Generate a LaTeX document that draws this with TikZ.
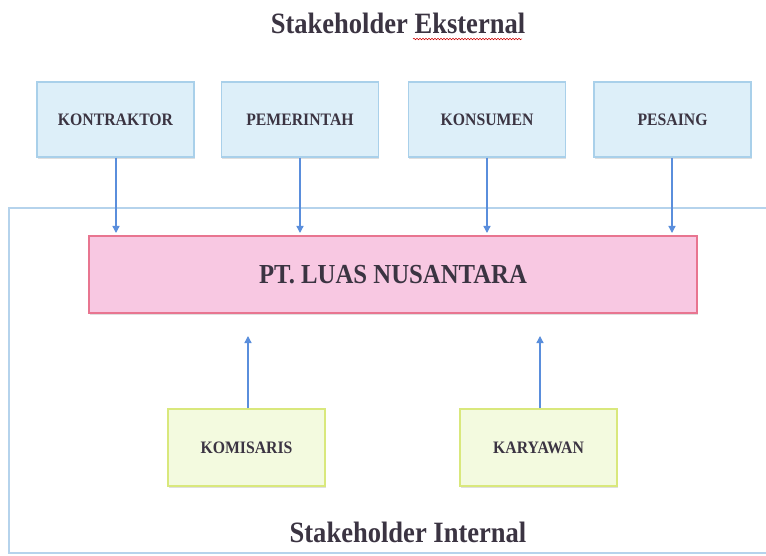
\documentclass[tikz,border=0pt]{standalone}
\usepackage{fontspec}
\setmainfont[FakeStretch=0.9]{Liberation Serif}
\usetikzlibrary{shadows,decorations.pathmorphing,arrows.meta}
\definecolor{txt}{HTML}{3B3442}
\definecolor{bluefill}{HTML}{DDEFF9}
\definecolor{blueline}{HTML}{A9D0EA}
\definecolor{pinkfill}{HTML}{F8C8E2}
\definecolor{pinkline}{HTML}{E87590}
\definecolor{greenfill}{HTML}{F3FADF}
\definecolor{greenline}{HTML}{D9E87C}
\definecolor{arrowc}{HTML}{5A8EDC}
\definecolor{framec}{HTML}{B5D3EC}
\tikzset{
  box/.style={draw, line width=1.2pt, inner sep=0pt, text=txt,
    font=\bfseries\fontsize{17.5}{20}\selectfont,
    drop shadow={shadow xshift=0.8pt, shadow yshift=-2pt, opacity=0.25}},
  extbox/.style={box, fill=bluefill, draw=blueline, minimum width=157pt, minimum height=75pt},
  intbox/.style={box, fill=greenfill, draw=greenline, minimum width=157pt, minimum height=77pt},
  mainbox/.style={box, fill=pinkfill, draw=pinkline, minimum width=608pt, minimum height=77pt,
    font=\bfseries\fontsize{27.5}{32}\selectfont},
  conn/.style={draw=arrowc, line width=1.3pt, -{Triangle[length=7pt,width=7pt]}},
  title/.style={text=txt, font=\bfseries\fontsize{29.5}{34}\selectfont, inner sep=0pt}
}
\begin{document}
\begin{tikzpicture}[x=1pt,y=-1pt]
\useasboundingbox (0,0) rectangle (766,556);
\fill[white] (0,0) rectangle (766,556);
\begin{scope}
\clip (0,0) rectangle (766,556);
\draw[draw=framec, line width=1.2pt] (9,208) rectangle (780,553);
\end{scope}
\node[title] (t1) at (398,23) {Stakeholder Eksternal};
\draw[red!80!black, line width=0.5pt, decorate,
  decoration={snake, amplitude=0.8pt, segment length=3pt}] (413,39) -- (522,39);
\node[extbox] (k1) at (115.5,119.5) {KONTRAKTOR};
\node[extbox] (k2) at (300,119.5) {PEMERINTAH};
\node[extbox] (k3) at (487,119.5) {KONSUMEN};
\node[extbox] (k4) at (672.5,119.5) {PESAING};
\node[mainbox] (pt) at (393,274.5) {PT. LUAS NUSANTARA};
\node[intbox] (i1) at (246.5,447.5) {KOMISARIS};
\node[intbox] (i2) at (538.5,447.5) {KARYAWAN};
\node[title] (t2) at (408,532) {Stakeholder Internal};
\coordinate (a1) at (116,233);
\coordinate (a2) at (300,233);
\coordinate (a3) at (487,233);
\coordinate (a4) at (672,233);
\coordinate (b1) at (248,336);
\coordinate (b2) at (540,336);
\draw[conn] (k1.south -| a1) -- (a1);
\draw[conn] (k2.south -| a2) -- (a2);
\draw[conn] (k3.south -| a3) -- (a3);
\draw[conn] (k4.south -| a4) -- (a4);
\draw[conn] (i1.north -| b1) -- (b1);
\draw[conn] (i2.north -| b2) -- (b2);
\end{tikzpicture}
\end{document}
